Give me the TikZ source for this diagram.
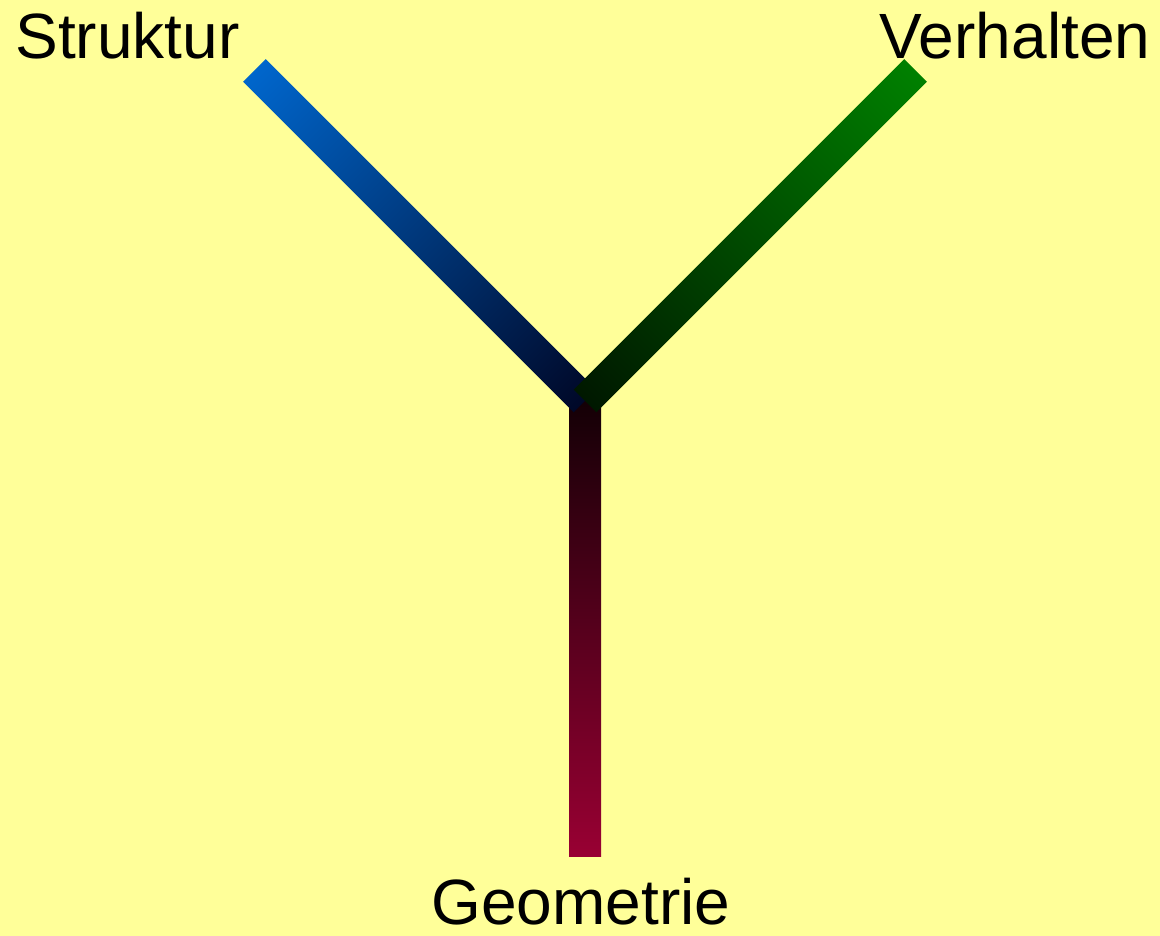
\documentclass[tikz,border=0pt]{standalone}
\usepackage{fontspec}
\setmainfont{Liberation Sans}
\definecolor{bgyellow}{RGB}{255,255,153}
\definecolor{strukblue}{RGB}{0,102,204}
\definecolor{verhgreen}{RGB}{0,128,0}
\definecolor{geored}{RGB}{153,0,51}
\definecolor{strukdark}{RGB}{0,8,40}
\definecolor{verhdark}{RGB}{0,24,0}
\definecolor{geodark}{RGB}{20,0,6}
\tikzset{
  label text/.style={inner sep=0pt, anchor=base, font=\fontsize{64}{76}\selectfont, text=black},
}
\begin{document}
\begin{tikzpicture}[x=1pt,y=1pt]
  \fill[bgyellow] (0,0) rectangle (1160,936);
  \useasboundingbox (0,0) rectangle (1160,936);
  \coordinate (C) at (585,535);
  \coordinate (G) at (585,79);
  % vertical bar (Geometrie)
  \shade[top color=geodark, bottom color=geored] (569,79) rectangle (601,535);
  % Struktur bar
  \shade[left color=strukdark, right color=strukblue, transform canvas={shift={(C)}, rotate=135}] (0,-16) rectangle (467.4,16);
  % Verhalten bar
  \shade[left color=verhdark, right color=verhgreen, transform canvas={shift={(C)}, rotate=45}] (0,-16) rectangle (467.4,16);
  \node[label text] (struktur) at (127.5,877) {Struktur};
  \node[label text] (verhalten) at (1015,877) {Verhalten};
  \node[label text] (geometrie) at (581,11) {Geometrie};
\end{tikzpicture}
\end{document}
